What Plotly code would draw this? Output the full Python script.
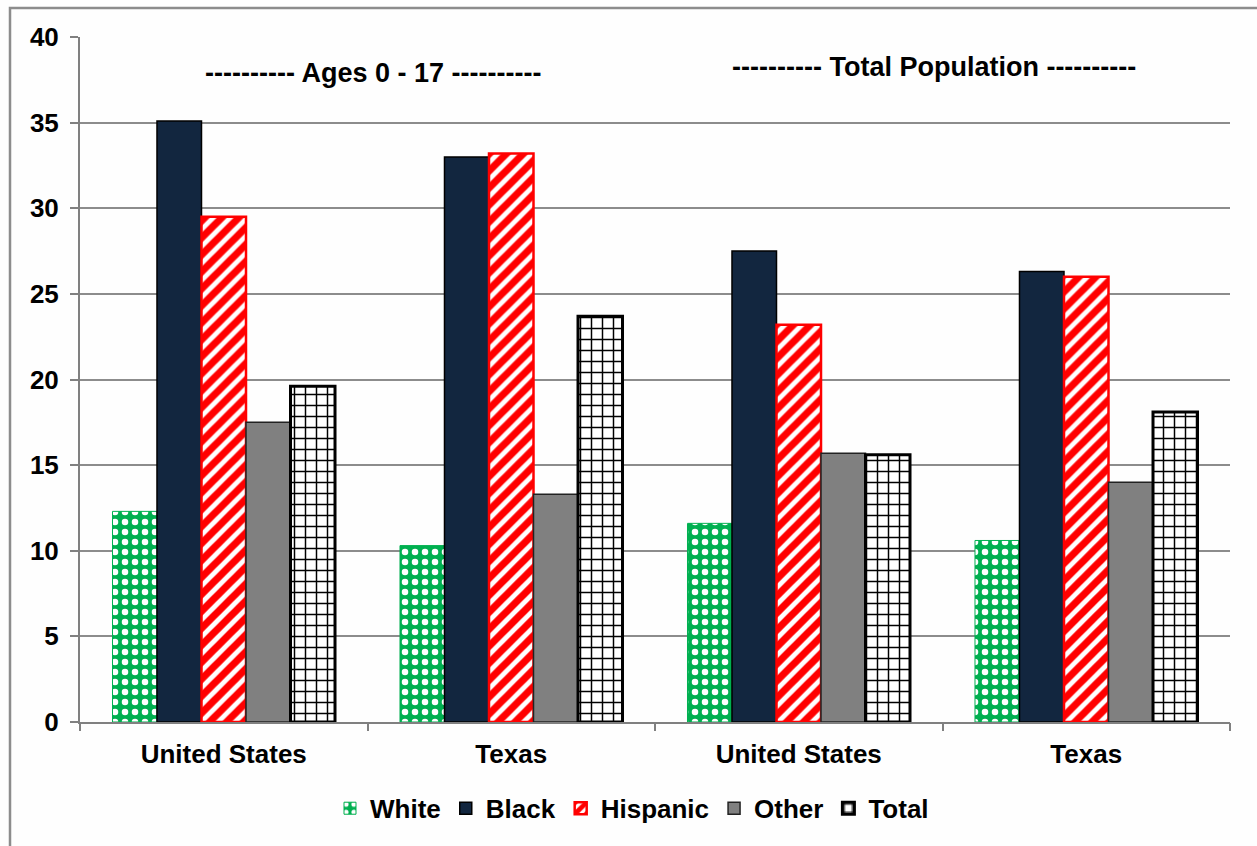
import plotly.graph_objects as go

# Groups along the x axis (two age bands x two geographies)
groups = ["United States", "Texas", "United States", "Texas"]
panel_titles = ["---------- Ages 0 - 17 ----------", "---------- Total Population ----------"]

white = [12.3, 10.3, 11.6, 10.6]
black = [35.1, 33.0, 27.5, 26.3]
hispanic = [29.5, 33.2, 23.2, 26.0]
other = [17.5, 13.3, 15.7, 14.0]
total = [19.6, 23.7, 15.6, 18.1]

y_ticks = [0, 5, 10, 15, 20, 25, 30, 35, 40]

FONT = "Liberation Sans, Arial, sans-serif"
FS = 26
x = list(range(len(groups)))

fig = go.Figure()

fig.add_trace(go.Bar(
    x=x, y=white, name="White",
    marker=dict(color="#00B050",
                line=dict(color="#00B050", width=1),
                pattern=dict(shape=".", fgcolor="#FFFFFF", bgcolor="#00B050",
                             size=10, solidity=0.33, fgopacity=1, fillmode="overlay")),
))
fig.add_trace(go.Bar(
    x=x, y=black, name="Black",
    marker=dict(color="#12263F", line=dict(color="#000000", width=1.5)),
))
fig.add_trace(go.Bar(
    x=x, y=hispanic, name="Hispanic",
    marker=dict(color="white",
                line=dict(color="#FF0000", width=2.5),
                pattern=dict(shape="/", fgcolor="#FF0000", bgcolor="white",
                             size=12, solidity=0.6, fgopacity=1, fillmode="overlay")),
))
fig.add_trace(go.Bar(
    x=x, y=other, name="Other",
    marker=dict(color="#808080", line=dict(color="#222222", width=1.5)),
))
fig.add_trace(go.Bar(
    x=x, y=total, name="Total",
    marker=dict(color="white",
                line=dict(color="#000000", width=3),
                pattern=dict(shape="+", fgcolor="#000000", bgcolor="white",
                             size=11, solidity=0.25, fgopacity=1, fillmode="overlay")),
))

# Invisible trace on a twin x axis so the group-boundary tick marks can be drawn
fig.add_trace(go.Scatter(x=[-0.5, 3.5], y=[0, 0], xaxis="x2", mode="markers",
                         marker=dict(opacity=0), showlegend=False, hoverinfo="skip"))

title_pos = [(0.52, 37.9), (2.47, 38.25)]
for (tx, ty), title in zip(title_pos, panel_titles):
    fig.add_annotation(
        x=tx, xref="x", y=ty, yref="y",
        text=f"<b>{title}</b>", showarrow=False,
        font=dict(family=FONT, size=27, color="#000000"),
        xanchor="center", yanchor="middle",
    )

# Outer chart-area border (left and top edges)
fig.add_shape(type="rect", xref="paper", yref="paper",
              x0=-70 / 1150, x1=1.2, y0=-0.2, y1=1 + 29 / 685,
              line=dict(color="#8C8C8C", width=2.5), layer="below")

fig.update_layout(
    width=1257, height=846,
    margin=dict(l=80, r=27, t=37, b=124),
    paper_bgcolor="#FEFEFE", plot_bgcolor="#FEFEFE",
    barmode="group", bargap=0.226, bargroupgap=0,
    font=dict(family=FONT, color="#000000"),
    showlegend=True,
    legend=dict(orientation="h", x=0.48, xanchor="center", y=-0.126, yanchor="middle",
                font=dict(family=FONT, size=FS, color="#000000", weight="bold"),
                itemwidth=30, traceorder="normal", bgcolor="rgba(0,0,0,0)"),
    xaxis=dict(
        range=[-0.5, 3.5], tickvals=x, ticktext=[f"<b>{g}</b>" for g in groups],
        tickfont=dict(family=FONT, size=FS, color="#000000"),
        ticks="", showgrid=False, zeroline=False, ticklabelstandoff=8,
        showline=True, linecolor="#808080", linewidth=2,
    ),
    xaxis2=dict(
        overlaying="x", matches="x", side="bottom", range=[-0.5, 3.5],
        tickvals=[-0.5, 0.5, 1.5, 2.5, 3.5], showticklabels=False,
        ticks="outside", ticklen=8, tickwidth=2, tickcolor="#808080",
        showgrid=False, zeroline=False, showline=False,
    ),
    yaxis=dict(
        range=[0, 40], tickvals=y_ticks, ticktext=[f"<b>{v}</b>" for v in y_ticks],
        tickfont=dict(family=FONT, size=FS, color="#000000"),
        ticks="outside", ticklen=8, tickwidth=2, tickcolor="#808080",
        showgrid=True, gridcolor="#8C8C8C", gridwidth=1.5,
        zeroline=False, showline=True, linecolor="#808080", linewidth=2,
        ticklabelstandoff=6,
    ),
)

fig.write_html("out.html")
